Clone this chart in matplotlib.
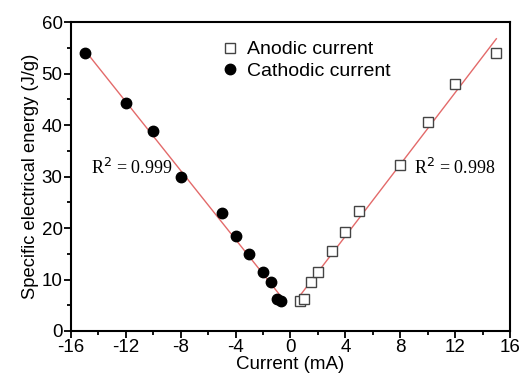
import numpy as np
import matplotlib.pyplot as plt
from matplotlib.ticker import MultipleLocator

# cathodic (filled circles)
cath_x = [-15, -12, -10, -8, -5, -4, -3, -2, -1.45, -1.0, -0.7]
cath_y = [54.0, 44.2, 38.9, 30.0, 22.9, 18.4, 15.0, 11.5, 9.45, 6.2, 5.8]

# anodic (open squares)
anod_x = [0.7, 1.0, 1.5, 2, 3, 4, 5, 8, 10, 12, 15]
anod_y = [5.8, 6.15, 9.45, 11.5, 15.6, 19.2, 23.4, 32.3, 40.6, 48.0, 53.9]

plt.rcParams['font.family'] = 'Liberation Sans'
plt.rcParams['axes.unicode_minus'] = False

fig = plt.figure(figsize=(5.21, 3.74), dpi=100)
ax = fig.add_axes([0.136, 0.115, 0.843, 0.826])

# linear fits
line_col = '#e36a6a'
c_fit = np.polyfit(cath_x, cath_y, 1)
xs = np.array([min(cath_x), max(cath_x)])
ax.plot(xs, np.polyval(c_fit, xs), color=line_col, lw=1.0, zorder=1)
a_fit = np.polyfit(anod_x, anod_y, 1)
xs = np.array([min(anod_x), max(anod_x)])
ax.plot(xs, np.polyval(a_fit, xs), color=line_col, lw=1.0, zorder=1)

ax.plot(anod_x, anod_y, 's', ms=7, mfc='white', mec='#444444', mew=1.0,
        ls='none', label='Anodic current', zorder=3)
ax.plot(cath_x, cath_y, 'o', ms=7.5, color='black', ls='none',
        label='Cathodic current', zorder=3)

ax.text(-14.5, 30.5, r'R$^2$ = 0.999', family='Liberation Serif', fontsize=13)
ax.text(9.0, 30.5, r'R$^2$ = 0.998', family='Liberation Serif', fontsize=13)

ax.set_xlim(-16, 16)
ax.set_ylim(0, 60)
ax.xaxis.set_major_locator(MultipleLocator(4))
ax.xaxis.set_minor_locator(MultipleLocator(2))
ax.yaxis.set_major_locator(MultipleLocator(10))
ax.yaxis.set_minor_locator(MultipleLocator(5))
ax.tick_params(which='both', direction='out', width=1.3, labelsize=13.5, pad=1)
ax.tick_params(which='major', length=5)
ax.tick_params(which='minor', length=3)
for s in ax.spines.values():
    s.set_linewidth(1.5)

ax.set_xlabel('Current (mA)', fontsize=13.5, labelpad=0)
ax.set_ylabel('Specific electrical energy (J/g)', fontsize=13.2, labelpad=2)

ax.legend(loc='upper left', bbox_to_anchor=(0.30, 0.99), frameon=False,
          fontsize=14, handletextpad=0.3, labelspacing=0.2, borderpad=0.3,
          handlelength=1.2)

fig.savefig('out.png', dpi=100)
